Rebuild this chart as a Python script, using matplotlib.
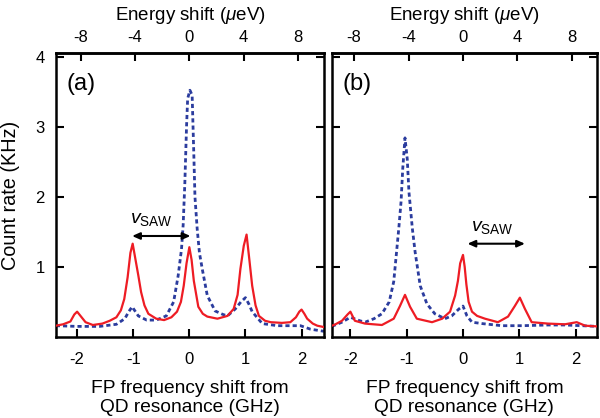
import matplotlib
matplotlib.use("Agg")
import matplotlib.pyplot as plt
import numpy as np

plt.rcParams['font.family'] = ['Liberation Sans', 'DejaVu Sans']
plt.rcParams['mathtext.fontset'] = 'custom'
plt.rcParams['mathtext.rm'] = 'Liberation Sans'
plt.rcParams['mathtext.it'] = 'Liberation Sans:italic'

# panel (a), red solid
a_red_x = [-2.38, -2.25, -2.12, -2.05, -2.00, -1.94, -1.85, -1.72, -1.55, -1.42,
           -1.30, -1.22, -1.16, -1.10, -1.05, -1.01, -0.97, -0.91, -0.86, -0.80,
           -0.73, -0.59, -0.45, -0.32, -0.22, -0.15, -0.10, -0.05, 0.00, 0.04,
           0.08, 0.16, 0.24, 0.32, 0.50, 0.68, 0.79, 0.86, 0.91, 0.97,
           1.02, 1.07, 1.12, 1.18, 1.24, 1.35, 1.45, 1.65, 1.80, 1.90,
           1.96, 2.00, 2.05, 2.10, 2.20, 2.28, 2.40]
a_red_y = [0.16, 0.18, 0.22, 0.32, 0.36, 0.30, 0.21, 0.17, 0.19, 0.23,
           0.28, 0.38, 0.54, 0.85, 1.20, 1.33, 1.15, 0.88, 0.64, 0.45,
           0.33, 0.26, 0.24, 0.28, 0.36, 0.50, 0.73, 1.05, 1.28, 1.10,
           0.80, 0.43, 0.33, 0.29, 0.26, 0.30, 0.40, 0.60, 0.97, 1.30,
           1.46, 1.10, 0.73, 0.45, 0.30, 0.23, 0.21, 0.20, 0.21, 0.28,
           0.36, 0.39, 0.33, 0.26, 0.19, 0.16, 0.14]

# panel (a), blue dashed
a_blue_x = [-2.38, -2.00, -1.60, -1.30, -1.15, -1.08, -1.02, -0.96, -0.91, -0.76,
            -0.59, -0.41, -0.28, -0.20, -0.14, -0.11, -0.08, -0.05, -0.03, 0.01,
            0.05, 0.08, 0.10, 0.14, 0.18, 0.23, 0.32, 0.46, 0.60, 0.68,
            0.82, 0.92, 1.00, 1.06, 1.12, 1.30, 1.57, 1.98, 2.16, 2.40]
a_blue_y = [0.16, 0.15, 0.15, 0.18, 0.26, 0.36, 0.43, 0.36, 0.30, 0.24,
            0.24, 0.30, 0.50, 0.87, 1.25, 1.60, 2.20, 3.00, 3.40, 3.52,
            3.45, 2.60, 2.00, 1.54, 1.20, 0.97, 0.59, 0.37, 0.32, 0.30,
            0.40, 0.50, 0.56, 0.47, 0.36, 0.19, 0.16, 0.16, 0.11, 0.08]

# panel (b), red solid
b_red_x = [-2.33, -2.29, -2.15, -2.05, -2.00, -1.92, -1.74, -1.44, -1.23, -1.12,
           -1.03, -0.94, -0.82, -0.55, -0.37, -0.23, -0.14, -0.09, -0.05, 0.00,
           0.03, 0.06, 0.10, 0.16, 0.25, 0.39, 0.62, 0.80, 0.92, 1.01,
           1.10, 1.22, 1.51, 1.81, 2.02, 2.17, 2.38]
b_red_y = [0.16, 0.17, 0.23, 0.32, 0.36, 0.23, 0.19, 0.17, 0.26, 0.44,
           0.60, 0.43, 0.26, 0.21, 0.26, 0.36, 0.59, 0.80, 1.05, 1.17,
           1.00, 0.75, 0.50, 0.36, 0.30, 0.26, 0.21, 0.29, 0.44, 0.56,
           0.40, 0.21, 0.19, 0.18, 0.21, 0.16, 0.15]

# panel (b), blue dashed
b_blue_x = [-2.33, -2.15, -2.00, -1.83, -1.74, -1.58, -1.44, -1.31, -1.23, -1.14,
            -1.10, -1.07, -1.03, -0.99, -0.96, -0.90, -0.85, -0.76, -0.64, -0.50,
            -0.32, -0.20, -0.07, 0.00, 0.07, 0.16, 0.34, 0.69, 1.05, 1.51,
            1.81, 2.11, 2.38]
b_blue_y = [0.15, 0.21, 0.28, 0.23, 0.21, 0.26, 0.33, 0.50, 0.79, 1.55,
            1.93, 2.40, 2.84, 2.54, 2.07, 1.55, 1.21, 0.73, 0.47, 0.33,
            0.26, 0.30, 0.40, 0.44, 0.30, 0.21, 0.19, 0.16, 0.16, 0.17,
            0.17, 0.16, 0.15]

ghz_to_uev = 4.1357
top_ticks = [-8, -4, 0, 4, 8]
bottom_ticks = [-2, -1, 0, 1, 2]
y_ticks = [1, 2, 3, 4]

red = '#ee1c24'
blue = '#2b3c9e'

fig = plt.figure(figsize=(6, 4.18), dpi=100)
ax1 = fig.add_axes([0.093, 0.194, 0.447, 0.679])
ax2 = fig.add_axes([0.553, 0.194, 0.442, 0.679])

panels = [(ax1, a_red_x, a_red_y, a_blue_x, a_blue_y, (-2.38, 2.40), '(a)'),
          (ax2, b_red_x, b_red_y, b_blue_x, b_blue_y, (-2.33, 2.38), '(b)')]

for ax, rx, ry, bx, by, xl, lab in panels:
    ax.plot(rx, ry, color=red, lw=1.6, zorder=3)
    ax.plot(bx, by, color=blue, lw=2.0, linestyle=(0, (1.5, 1.1)), zorder=2)
    ax.set_xlim(*xl)
    ax.set_ylim(0, 4.05)
    ax.set_xticks(bottom_ticks)
    ax.set_xticklabels([str(t) for t in bottom_ticks])
    ax.set_yticks(y_ticks)
    ax.tick_params(direction='in', length=6, width=1.5, labelsize=12,
                   right=True, top=False)
    ax.tick_params(axis='x', pad=11)
    ax.tick_params(axis='y', pad=8)
    for s in ax.spines.values():
        s.set_linewidth(1.8)
    ax.set_xlabel('FP frequency shift from\nQD resonance (GHz)', fontsize=13.8,
                  labelpad=9)
    ax.text(0.04, 0.93, lab, transform=ax.transAxes, fontsize=17,
            va='top', ha='left')
    sec = ax.secondary_xaxis('top', functions=(lambda x: x * ghz_to_uev,
                                               lambda e: e / ghz_to_uev))
    sec.set_xticks(top_ticks)
    sec.set_xticklabels([str(t) for t in top_ticks])
    sec.tick_params(direction='in', length=6, width=1.5, labelsize=12, pad=6)
    sec.spines['top'].set_linewidth(1.8)
    sec.set_xlabel('Energy shift ($\\mu$eV)', fontsize=13.5, labelpad=7)

ax1.set_ylabel('Count rate (KHz)', fontsize=14.3, labelpad=11)
ax2.set_yticklabels([])

arrow = dict(arrowstyle='<|-|>,head_length=0.45,head_width=0.2', color='black',
             lw=1.5, shrinkA=0, shrinkB=0)
ax1.annotate('', xy=(0.02, 1.44), xytext=(-1.02, 1.44), arrowprops=arrow)
ax1.text(-0.68, 1.55, '$v_{\\mathrm{SAW}}$', fontsize=14, ha='center', va='bottom')
ax2.annotate('', xy=(1.10, 1.33), xytext=(0.08, 1.33), arrowprops=arrow)
ax2.text(0.52, 1.44, '$v_{\\mathrm{SAW}}$', fontsize=14, ha='center', va='bottom')

fig.savefig('out.png', dpi=100)
